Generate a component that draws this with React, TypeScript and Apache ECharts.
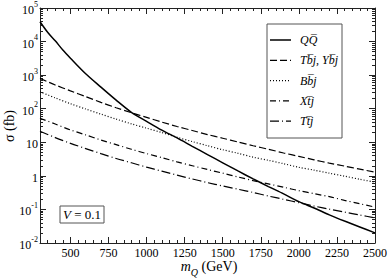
import React, { useEffect, useRef } from "react";
import * as echarts from "echarts";

// m_Q (GeV)
const QQ_MASS = [300, 350, 400, 450, 500, 600, 700, 800, 900, 1000, 1100, 1200, 1300, 1400, 1500, 1600, 1700, 1800, 1900, 2000, 2100, 2200, 2300, 2400, 2500];
const QQ = [39000, 19000, 10500, 5600, 3200, 1100, 440, 180, 78, 42, 23, 13.5, 7.6, 4.3, 2.45, 1.4, 0.81, 0.48, 0.29, 0.17, 0.11, 0.069, 0.045, 0.03, 0.02];

const MASS = [300, 400, 500, 600, 700, 800, 900, 1000, 1100, 1200, 1300, 1400, 1500, 1600, 1700, 1800, 1900, 2000, 2100, 2200, 2300, 2400, 2500];
const TBJ = [800, 510, 340, 230, 155, 107, 76, 55, 40, 29.5, 22.4, 17, 13.2, 10.2, 7.9, 6.2, 4.8, 3.8, 3.0, 2.4, 1.95, 1.58, 1.29];
const BBJ = [320, 210, 141, 98, 69, 49, 35.5, 26.3, 19.5, 14.1, 10.5, 7.9, 6.0, 4.7, 3.6, 2.9, 2.3, 1.8, 1.48, 1.2, 0.98, 0.79, 0.65];
const XTJ = [52, 35, 23.4, 16.6, 11.7, 8.5, 6.2, 4.6, 3.5, 2.6, 2.0, 1.55, 1.2, 0.93, 0.72, 0.575, 0.457, 0.363, 0.295, 0.24, 0.186, 0.148, 0.117];
const TTJ = [21.4, 13.8, 9.3, 6.5, 4.6, 3.3, 2.45, 1.82, 1.38, 1.05, 0.81, 0.63, 0.5, 0.4, 0.32, 0.25, 0.2, 0.158, 0.126, 0.102, 0.083, 0.068, 0.056];

const SERIES_NAMES = ["QQ\u0305", "Tb\u0305j, Yb\u0305j", "Bb\u0305j", "Xt\u0305j", "Tt\u0305j"];
const X_MAJOR = [500, 750, 1000, 1250, 1500, 1750, 2000, 2250, 2500];
const Y_MAJOR = [0.01, 0.1, 1, 10, 100, 1000, 10000, 100000];
const X_MIN = 300;
const X_MAX = 2500;

const FONT = "'Liberation Serif', 'Times New Roman', serif";
const DASHES: (number[] | "solid")[] = ["solid", [7, 3], [1, 2], [6, 3, 1, 3], [9, 3, 1, 3]];

function xMinor(): number[] {
  const out: number[] = [];
  for (let v = X_MIN; v <= X_MAX; v += 50) if (v % 250 !== 0) out.push(v);
  return out;
}
function yMinor(): number[] {
  const out: number[] = [];
  for (let e = -2; e < 5; e++) {
    for (let k = 2; k <= 9; k++) out.push(Number((k * Math.pow(10, e)).toPrecision(3)));
  }
  return out;
}

function yLabel(v: number): string {
  const e = Math.round(Math.log10(v));
  if (e === 0) return "{b|1}";
  if (e === 1) return "{b|10}";
  return "{b|10}{s|" + e + "}";
}

export default function App() {
  const ref = useRef<HTMLDivElement>(null);
  useEffect(() => {
    if (!ref.current) return;
    const chart = echarts.init(ref.current, undefined, { renderer: "svg" });
    const frame = { show: true, onZero: false, lineStyle: { color: "#222", width: 1 } };
    const noLine = { show: false, onZero: false };
    const mkX = (position: string, major: boolean, labels: boolean) => ({
      type: "value",
      position,
      min: X_MIN,
      max: X_MAX,
      axisLine: major ? frame : noLine,
      splitLine: { show: false },
      axisTick: {
        show: true,
        inside: true,
        length: major ? 6 : 3,
        lineStyle: { color: "#222", width: 1 },
        customValues: major ? X_MAJOR : xMinor(),
      },
      axisLabel: labels
        ? {
            show: true,
            customValues: X_MAJOR,
            fontFamily: FONT,
            fontSize: 12,
            color: "#000",
            margin: 4,
            formatter: (v: number) => String(Math.round(v)),
          }
        : { show: false },
    });
    const mkY = (position: string, major: boolean, labels: boolean) => ({
      type: "log",
      logBase: 10,
      position,
      min: 0.01,
      max: 100000,
      axisLine: major ? frame : noLine,
      splitLine: { show: false },
      axisTick: {
        show: true,
        inside: true,
        length: major ? 6 : 3,
        lineStyle: { color: "#222", width: 1 },
        customValues: major ? Y_MAJOR : yMinor(),
      },
      axisLabel: labels
        ? {
            show: true,
            customValues: Y_MAJOR,
            margin: 2,
            fontFamily: FONT,
            formatter: yLabel,
            rich: {
              b: { fontFamily: FONT, fontSize: 12, color: "#000", lineHeight: 16, verticalAlign: "bottom" },
              s: { fontFamily: FONT, fontSize: 8, color: "#000", lineHeight: 8, verticalAlign: "top" },
            },
          }
        : { show: false },
    });

    const seriesData = [
      QQ_MASS.map((m, i) => [m, QQ[i]]),
      MASS.map((m, i) => [m, TBJ[i]]),
      MASS.map((m, i) => [m, BBJ[i]]),
      MASS.map((m, i) => [m, XTJ[i]]),
      MASS.map((m, i) => [m, TTJ[i]]),
    ];

    const legendTop = 40;
    const legendStep = 20.3;
    const legendGraphics: any[] = [
      {
        type: "rect",
        shape: { x: 267, y: 24, width: 75, height: 114 },
        style: { fill: "#fff", stroke: "#555", lineWidth: 1 },
        z: 10,
      },
    ];
    SERIES_NAMES.forEach((name, i) => {
      const y = legendTop + i * legendStep;
      legendGraphics.push({
        type: "line",
        shape: { x1: 270, y1: y, x2: 291, y2: y },
        style: {
          stroke: "#000",
          lineWidth: i === 0 ? 1.5 : 1.2,
          lineDash: DASHES[i] === "solid" ? null : (DASHES[i] as number[]),
        },
        z: 11,
      });
      legendGraphics.push({
        type: "text",
        x: 300,
        y,
        style: {
          text: name,
          fontFamily: FONT,
          fontStyle: "italic",
          fontSize: 12,
          fill: "#000",
          verticalAlign: "middle",
          align: "left",
        },
        z: 11,
      });
    });

    chart.setOption({
      animation: false,
      backgroundColor: "#fff",
      textStyle: { fontFamily: FONT },
      grid: { left: 40, right: 13, top: 8, bottom: 35, containLabel: false },
      xAxis: [mkX("bottom", true, true), mkX("bottom", false, false), mkX("top", true, false), mkX("top", false, false)],
      yAxis: [mkY("left", true, true), mkY("left", false, false), mkY("right", true, false), mkY("right", false, false)],
      series: seriesData.map((d, i) => ({
        type: "line",
        name: SERIES_NAMES[i],
        data: d,
        xAxisIndex: 0,
        yAxisIndex: 0,
        showSymbol: false,
        symbol: "none",
        smooth: 0.3,
        lineStyle: { color: "#000", width: i === 0 ? 1.5 : 1.2, type: DASHES[i] },
      })),
      graphic: [
        ...legendGraphics,
        {
          type: "rect",
          shape: { x: 60, y: 206, width: 44, height: 17 },
          style: { fill: "#fff", stroke: "#555", lineWidth: 1 },
          z: 10,
        },
        {
          type: "text",
          x: 82,
          y: 214.5,
          style: {
            text: "{i|V} {n|= 0.1}",
            align: "center",
            verticalAlign: "middle",
            rich: {
              i: { fontFamily: FONT, fontStyle: "italic", fontSize: 13, fill: "#000" },
              n: { fontFamily: FONT, fontSize: 13, fill: "#000" },
            },
          },
          z: 11,
        },
        {
          type: "text",
          x: 209,
          y: 268,
          style: {
            text: "{i|m}{q|Q}{n| (GeV)}",
            align: "center",
            verticalAlign: "middle",
            rich: {
              i: { fontFamily: FONT, fontStyle: "italic", fontSize: 14, fill: "#000", lineHeight: 14, verticalAlign: "top" },
              q: { fontFamily: FONT, fontStyle: "italic", fontSize: 10, fill: "#000", lineHeight: 18, verticalAlign: "bottom" },
              n: { fontFamily: FONT, fontSize: 14, fill: "#000", lineHeight: 14, verticalAlign: "top" },
            },
          },
        },
        {
          type: "text",
          x: 9,
          y: 126,
          rotation: Math.PI / 2,
          style: {
            text: "\u03c3 (fb)",
            fontFamily: FONT,
            fontSize: 14,
            fill: "#000",
            align: "center",
            verticalAlign: "middle",
          },
        },
      ],
    });
    return () => chart.dispose();
  }, []);
  return <div ref={ref} style={{ width: 390, height: 278, position: "absolute", left: 0, top: 0 }} />;
}
